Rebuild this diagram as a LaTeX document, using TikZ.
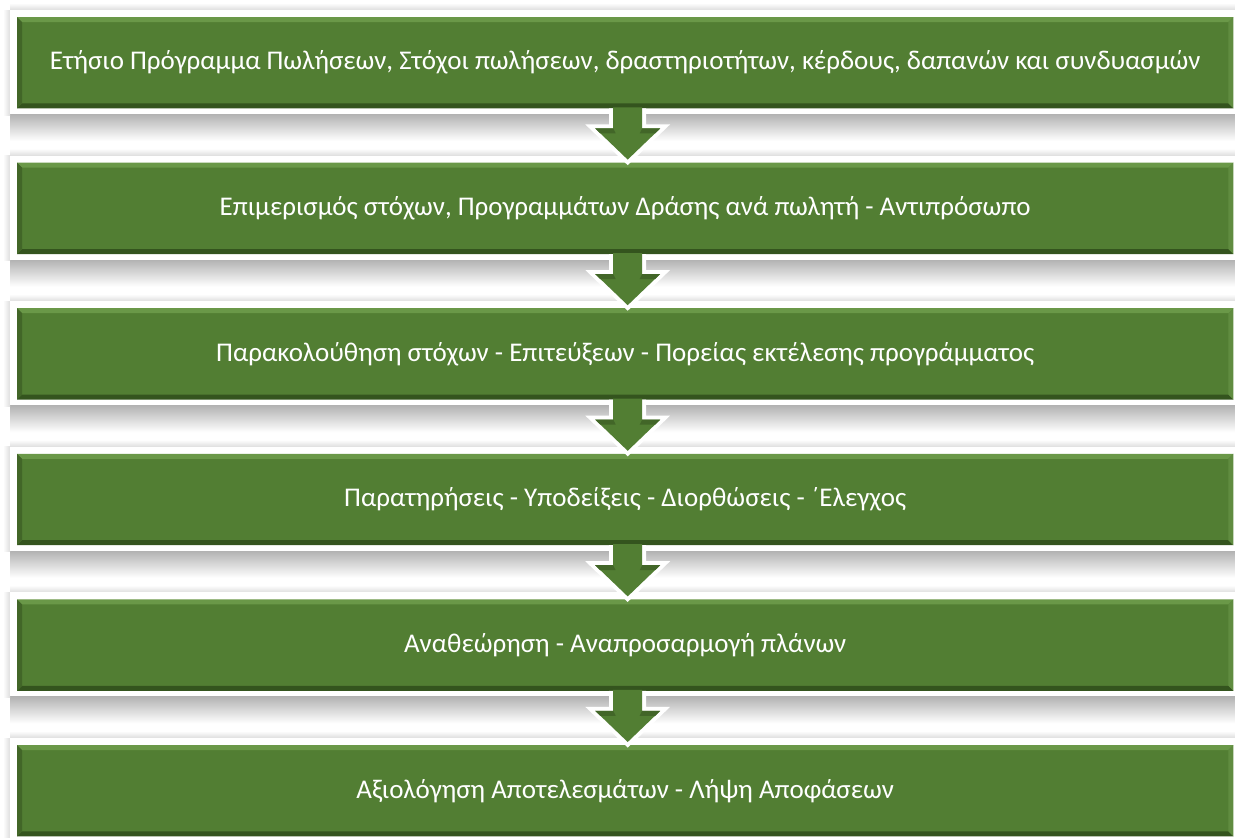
\documentclass[tikz,border=0pt]{standalone}
\usepackage{fontspec}
\setmainfont{Carlito}
\usetikzlibrary{calc}
\definecolor{gmain}{RGB}{82,126,51}
\definecolor{glight}{RGB}{106,152,72}
\definecolor{gdark}{RGB}{52,84,30}
\definecolor{gleft}{RGB}{66,102,40}
\definecolor{gright}{RGB}{96,140,64}
\definecolor{shadowgray}{RGB}{175,175,175}
\definecolor{shadowlight}{RGB}{222,222,222}
\tikzset{
  stepbox/.style={fill=gmain, text=white, minimum width=1216pt, minimum height=91pt,
    inner sep=0pt, anchor=north west, font=\fontsize{27}{32}\selectfont},
  framebox/.style={fill=white},
  shadebelow/.style={top color=shadowgray, bottom color=white},
  shadeabove/.style={top color=white, bottom color=shadowlight},
  shadeleft/.style={left color=white, right color=shadowlight},
  arrowout/.style={draw=white, line width=8pt, line join=miter},
  arrowfill/.style={fill=gmain},
  bevtop/.style={fill=glight},
  bevbot/.style={fill=gdark},
  bevleft/.style={fill=gleft},
  bevright/.style={fill=gright},
}
\begin{document}
\begin{tikzpicture}[x=1pt,y=-1pt]
\useasboundingbox (0,0) rectangle (1235,838);
\clip (0,0) rectangle (1235,838);
\fill[white] (0,0) rectangle (1235,838);
% frame shadows and frames
\foreach \t in {17,162.6,308.2,453.8,599.4,745}{
  \shade[shadebelow] (10,\t+96) rectangle (1252,\t+124);
  \shade[shadeabove] (10,\t-14) rectangle (1252,\t-7);
  \shade[shadeleft] (3,\t-7) rectangle (10,\t+98);
  \fill[framebox] (10,\t-7) rectangle (1252,\t+97);
}
% boxes
\node[stepbox] (b1) at (17,17) {Ετήσιο Πρόγραμμα Πωλήσεων, Στόχοι πωλήσεων, δραστηριοτήτων, κέρδους, δαπανών και συνδυασμών};
\node[stepbox] (b2) at (17,162.6) {Επιμερισμός στόχων, Προγραμμάτων Δράσης ανά πωλητή - Αντιπρόσωπο};
\node[stepbox] (b3) at (17,308.2) {Παρακολούθηση στόχων - Επιτεύξεων - Πορείας εκτέλεσης προγράμματος};
\node[stepbox] (b4) at (17,453.8) {Παρατηρήσεις - Υποδείξεις - Διορθώσεις - ΄Ελεγχος};
\node[stepbox] (b5) at (17,599.4) {Αναθεώρηση - Αναπροσαρμογή πλάνων};
\node[stepbox] (b6) at (17,745) {Αξιολόγηση Αποτελεσμάτων - Λήψη Αποφάσεων};
% bevels
\foreach \b in {b1,b2,b3,b4,b5,b6}{
  \fill[bevtop] (\b.north west) -- (\b.north east) -- ($(\b.north east)+(-5,5)$) -- ($(\b.north west)+(5,5)$) -- cycle;
  \fill[bevbot] (\b.south west) -- (\b.south east) -- ($(\b.south east)+(-5,-5)$) -- ($(\b.south west)+(5,-5)$) -- cycle;
  \fill[bevleft] (\b.north west) -- ($(\b.north west)+(5,5)$) -- ($(\b.south west)+(5,-5)$) -- (\b.south west) -- cycle;
  \fill[bevright] (\b.north east) -- ($(\b.north east)+(-5,5)$) -- ($(\b.south east)+(-5,-5)$) -- (\b.south east) -- cycle;
}
% arrows
\foreach \i/\j in {b1/b2,b2/b3,b3/b4,b4/b5,b5/b6}{
  \coordinate (s) at ($(\i.south)+(2.5,0)$);
  \coordinate (e) at ($(\j.north)+(2.5,-3)$);
  \draw[arrowout] ($(s)+(-14.5,0)$) -- ($(s)+(-14.5,20)$) -- ($(s)+(-32.5,20)$) -- (e)
     -- ($(s)+(32.5,20)$) -- ($(s)+(14.5,20)$) -- ($(s)+(14.5,0)$);
  \fill[arrowfill] ($(s)+(-14.5,-1)$) -- ($(s)+(-14.5,20)$) -- ($(s)+(-32.5,20)$) -- (e)
     -- ($(s)+(32.5,20)$) -- ($(s)+(14.5,20)$) -- ($(s)+(14.5,-1)$) -- cycle;
  \fill[gleft] ($(s)+(-32.5,20)$) -- ($(s)+(-14.5,20)$) -- ($(s)+(-12,25)$) -- ($(s)+(-27.5,25)$) -- cycle;
  \fill[gleft] ($(s)+(14.5,20)$) -- ($(s)+(32.5,20)$) -- ($(s)+(27.5,25)$) -- ($(s)+(12,25)$) -- cycle;
}
\end{tikzpicture}
\end{document}
